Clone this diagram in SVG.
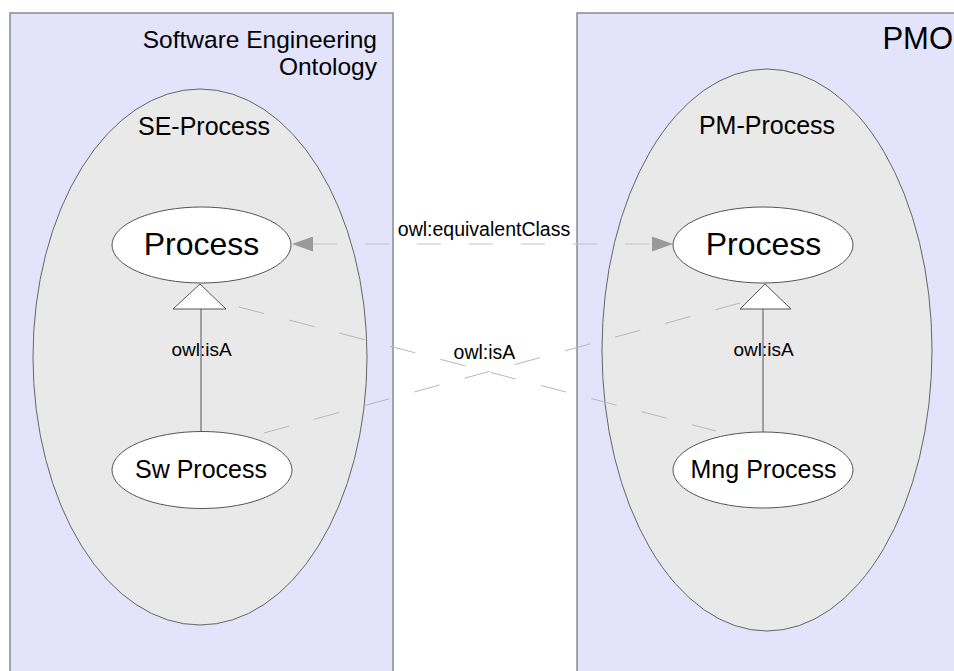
<svg xmlns="http://www.w3.org/2000/svg" width="954" height="671" viewBox="0 0 954 671">
<defs>
<style>
.panel{fill:#e3e3fb;stroke:#8a8a8a;stroke-width:1.5}
.big{fill:#e9e9e9;stroke:#666;stroke-width:1}
.cls{fill:#fff;stroke:#555;stroke-width:1}
.t{font-family:"Liberation Sans",Arial,sans-serif;fill:#000}
.eq{stroke:#c4c4c4;stroke-width:1.2;fill:none;stroke-dasharray:24 28}
.isa{stroke:#b8b8b8;stroke-width:1;fill:none;stroke-dasharray:26 26}
.sub{stroke:#555;stroke-width:1;fill:none}
.tri{fill:#fff;stroke:#555;stroke-width:1}
</style>
<marker id="ah" viewBox="0 0 21 15" refX="21" refY="7.5" markerWidth="21" markerHeight="15" markerUnits="userSpaceOnUse" orient="auto">
<path d="M0,0 L21,7.5 L0,15 Z" fill="#9a9a9a"/>
</marker>
</defs>
<rect width="954" height="671" fill="#fff"/>
<g id="se-ontology">
<rect class="panel" x="10" y="13" width="383" height="680"/>
<text class="t" x="377" y="48" font-size="24.5" text-anchor="end">Software Engineering</text>
<text class="t" x="377" y="75" font-size="24.5" text-anchor="end">Ontology</text>
</g>
<g id="pmo">
<rect class="panel" x="577" y="13" width="400" height="680"/>
<text class="t" x="953" y="49" font-size="31" text-anchor="end">PMO</text>
</g>
<g id="se-process">
<ellipse class="big" cx="200" cy="357" rx="167" ry="268"/>
<text class="t" x="204" y="135" font-size="25" text-anchor="middle">SE-Process</text>
</g>
<g id="pm-process">
<ellipse class="big" cx="767" cy="350" rx="165" ry="281"/>
<text class="t" x="767" y="134" font-size="25" text-anchor="middle">PM-Process</text>
</g>
<g id="connectors">
<line class="eq" x1="313" y1="244" x2="651" y2="244"/>
<line x1="313" y1="244" x2="292" y2="244" stroke="none" marker-end="url(#ah)"/>
<line x1="651" y1="244" x2="673" y2="244" stroke="none" marker-end="url(#ah)"/>
<line class="isa" x1="239" y1="307" x2="716" y2="431"/>
<line class="isa" x1="264" y1="433" x2="740" y2="303"/>
<line class="sub" x1="201" y1="309" x2="201" y2="432"/>
<polygon class="tri" points="200,284 173,309 226,309"/>
<line class="sub" x1="763" y1="309" x2="763" y2="432"/>
<polygon class="tri" points="765,284 740,309 791,309"/>
<text class="t" x="484" y="236" font-size="19.5" text-anchor="middle">owl:equivalentClass</text>
<text class="t" x="484.5" y="359" font-size="19.5" text-anchor="middle">owl:isA</text>
<text class="t" x="201.5" y="356" font-size="19" text-anchor="middle">owl:isA</text>
<text class="t" x="763.5" y="356" font-size="19" text-anchor="middle">owl:isA</text>
</g>
<g id="se-process-class">
<ellipse class="cls" cx="201.5" cy="245" rx="89.5" ry="38"/>
<text class="t" x="201.5" y="255" font-size="32" text-anchor="middle">Process</text>
</g>
<g id="pm-process-class">
<ellipse class="cls" cx="763" cy="245" rx="90" ry="38"/>
<text class="t" x="763.5" y="255" font-size="32" text-anchor="middle">Process</text>
</g>
<g id="sw-process">
<ellipse class="cls" cx="202" cy="470" rx="90" ry="38.5"/>
<text class="t" x="201" y="478" font-size="25" text-anchor="middle">Sw Process</text>
</g>
<g id="mng-process">
<ellipse class="cls" cx="763" cy="470" rx="90" ry="38"/>
<text class="t" x="763.5" y="478" font-size="25" text-anchor="middle">Mng Process</text>
</g>
</svg>
